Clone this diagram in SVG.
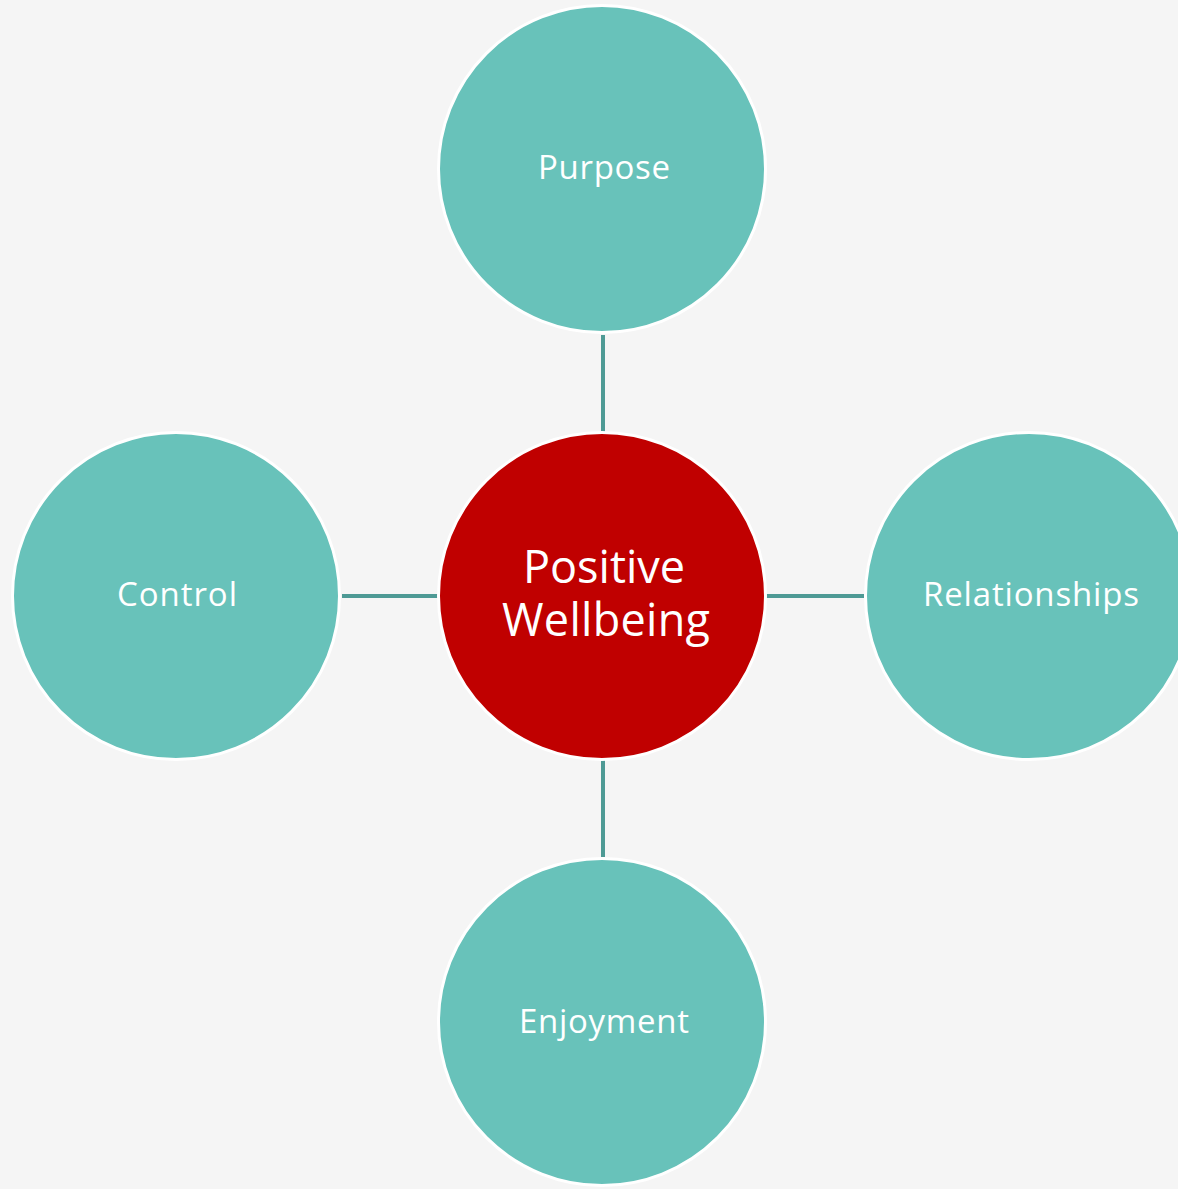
<svg xmlns="http://www.w3.org/2000/svg" width="1178" height="1189" viewBox="0 0 1178 1189">
<style>
.outer{fill:#68C2BA;stroke:#FFFFFF;stroke-width:3}
.core{fill:#C00000;stroke:#FFFFFF;stroke-width:3}
.lbl{font-family:"Open Sans","Liberation Sans",sans-serif;fill:#FFFFFF;text-anchor:middle;font-size:33px}
.big{font-size:45px}
.conn{stroke:#4E9A95;stroke-width:4;fill:none}
</style>
<rect width="1178" height="1189" fill="#F5F5F5"/>
<g id="connectors">
<line class="conn" x1="603" y1="335" x2="603" y2="433"/>
<line class="conn" x1="603" y1="760" x2="603" y2="857"/>
<line class="conn" x1="342" y1="596" x2="438" y2="596"/>
<line class="conn" x1="766" y1="596" x2="864" y2="596"/>
</g>
<g id="purpose">
<circle class="outer" cx="602" cy="169" r="163.5"/>
<text class="lbl" x="604" y="179" textLength="132">Purpose</text>
</g>
<g id="control">
<circle class="outer" cx="176" cy="596" r="163.5"/>
<text class="lbl" x="177" y="606" textLength="120">Control</text>
</g>
<g id="relationships">
<circle class="outer" cx="1029" cy="596" r="163.5"/>
<text class="lbl" x="1031" y="606" textLength="216">Relationships</text>
</g>
<g id="enjoyment">
<circle class="outer" cx="602" cy="1022" r="163.5"/>
<text class="lbl" x="604" y="1033" textLength="170">Enjoyment</text>
</g>
<g id="positive-wellbeing">
<circle class="core" cx="602" cy="596" r="163.5"/>
<text class="lbl big"><tspan x="604" y="583" textLength="162">Positive</tspan><tspan x="606" y="636" textLength="208">Wellbeing</tspan></text>
</g>
</svg>
